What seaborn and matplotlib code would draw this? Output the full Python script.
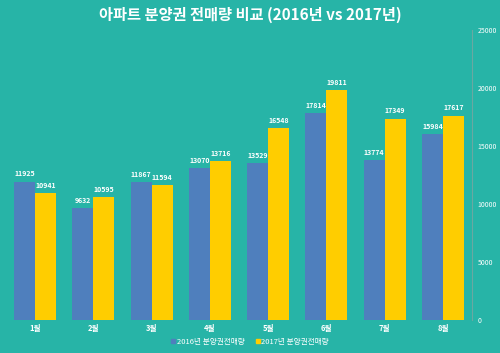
import matplotlib
matplotlib.use("Agg")
import matplotlib.pyplot as plt
import seaborn as sns
import pandas as pd
from matplotlib.lines import Line2D

months = ["1월", "2월", "3월", "4월", "5월", "6월", "7월", "8월"]
series_names = ["2016년 분양권전매량", "2017년 분양권전매량"]
v2016 = [11925, 9632, 11867, 13070, 13529, 17814, 13774, 15984]
v2017 = [10941, 10595, 11594, 13716, 16548, 19811, 17349, 17617]
yticks = [0, 5000, 10000, 15000, 20000, 25000]

BG = "#27b4a7"
BLUE = "#4f7fbd"
YELLOW = "#ffcd00"

df = pd.DataFrame({
    "month": months * 2,
    "series": [series_names[0]] * len(months) + [series_names[1]] * len(months),
    "value": v2016 + v2017,
})

sns.set_theme(style="white")
plt.rcParams["font.family"] = ["Noto Sans CJK KR", "DejaVu Sans"]

fig = plt.figure(figsize=(5.0, 3.53), dpi=100, facecolor=BG)
ax = fig.add_axes([0.012, 0.0935, 0.932, 0.822])
ax.set_facecolor(BG)

sns.barplot(data=df, x="month", y="value", hue="series", order=months,
            hue_order=series_names, palette=[BLUE, YELLOW], width=0.72,
            saturation=1, ax=ax, legend=False, linewidth=0)

for c in ax.containers:
    ax.bar_label(c, labels=[f"{int(v)}" for v in c.datavalues], padding=3,
                 fontsize=5, color="white", fontweight="bold")

ax.set_ylim(0, 25000)
ax.set_xlim(-0.5, 7.5)
ax.set_yticks(yticks)
ax.yaxis.tick_right()
ax.tick_params(axis="y", length=0, pad=4, labelsize=5, labelcolor="white")
ax.tick_params(axis="x", length=0, pad=3, labelsize=5.5, labelcolor="white")
for lbl in ax.get_xticklabels():
    lbl.set_fontweight("bold")
ax.set_xlabel("")
ax.set_ylabel("")
for s in ["top", "left", "bottom"]:
    ax.spines[s].set_visible(False)
ax.spines["right"].set_color("#6aa8a2")
ax.spines["right"].set_linewidth(0.8)

fig.text(0.5, 0.957, "아파트 분양권 전매량 비교 (2016년 vs 2017년)", ha="center",
         va="center", color="white", fontsize=11, fontweight="bold")

handles = [Line2D([], [], marker="s", linestyle="", markersize=3, color=BLUE),
           Line2D([], [], marker="s", linestyle="", markersize=3, color=YELLOW)]
leg = fig.legend(handles, series_names, loc="center", bbox_to_anchor=(0.5, 0.032),
                 ncol=2, frameon=False, fontsize=5.5, handlelength=0.5,
                 handletextpad=0.2, columnspacing=1.5, labelcolor="white")

fig.savefig("out.png", dpi=100, facecolor=BG)
